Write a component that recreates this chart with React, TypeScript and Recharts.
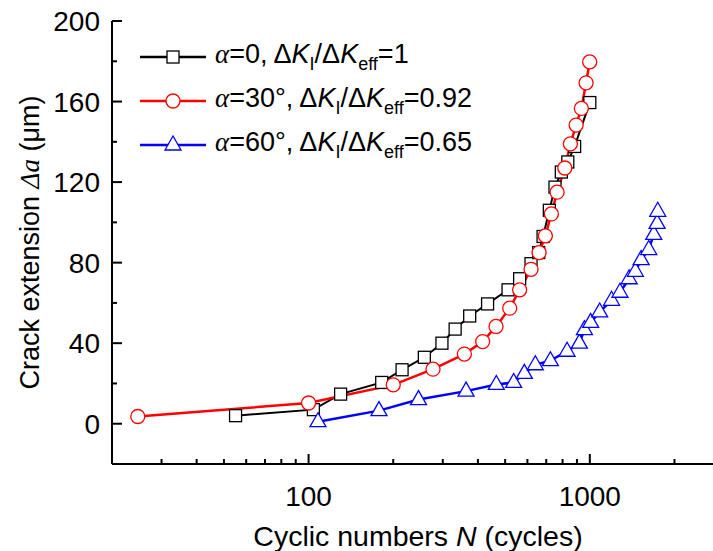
import React from 'react';
import { LineChart, Line, XAxis, YAxis, Legend } from 'recharts';

// cycles N and crack extension (um) for each loading angle
const blackN = [55, 104, 130, 182, 215, 258, 298, 332, 374, 433, 512, 563, 618, 658, 682, 718, 752, 792, 835, 883, 1000];
const blackV = [4, 7, 14.7, 20.5, 26.8, 33, 40, 47, 53.5, 59.5, 66.5, 72, 79.5, 85, 93, 106, 117.5, 125, 130, 137.7, 159.5];

const redN = [24.7, 100, 200, 277, 358, 416, 464, 519, 563, 618, 660, 695, 730, 765, 815, 853, 894, 933, 970, 999];
const redV = [3.6, 10.3, 19.3, 27.1, 34.6, 40.8, 48.3, 57.4, 66.5, 76.7, 85, 93.3, 104.2, 115, 127, 139, 148.3, 156.6, 169.3, 179.7];

const blueN = [108, 178, 246, 363, 465, 536, 585, 640, 724, 830, 918, 957, 1007, 1084, 1195, 1280, 1380, 1452, 1522, 1620, 1688, 1735, 1744];
const blueV = [1, 6.5, 12, 16.2, 19.5, 20.5, 25, 29.3, 31.3, 36, 40, 46.7, 50.3, 55.5, 61.3, 65.3, 72, 75.7, 81.5, 86.5, 94, 99.5, 105.5];

const angles = ['0', '30°', '60°'];
const ratios = ['1', '0.92', '0.65'];

const xTicks = [20, 30, 40, 50, 60, 70, 80, 90, 100, 200, 300, 400, 500, 600, 700, 800, 900, 1000, 2000];
const xLabels = [100, 1000];
const yTicks = [0, 20, 40, 60, 80, 100, 120, 140, 160, 180, 200];
const topTicks = [1, 2, 3, 4, 5, 6, 7, 8, 9];

const toPoints = (ns: number[], vs: number[]) => ns.map((n, i) => ({ n, v: vs[i] }));

const blackData = toPoints(blackN, blackV);
const redData = toPoints(redN, redV);
const blueData = toPoints(blueN, blueV);

const FONT = '"Liberation Sans", Arial, sans-serif';
const SERIF = '"Liberation Serif", "Times New Roman", serif';

const SquareDot = (p: any) => {
  if (p.cx == null) return <g key={p.key} />;
  return <rect key={p.key} x={p.cx - 6} y={p.cy - 6} width={12} height={12} fill="#fff" stroke="#000" strokeWidth={1.3} />;
};

const CircleDot = (p: any) => {
  if (p.cx == null) return <g key={p.key} />;
  return <circle key={p.key} cx={p.cx} cy={p.cy} r={7} fill="#fff" stroke="#f00" strokeWidth={1.3} />;
};

const TriangleDot = (p: any) => {
  if (p.cx == null) return <g key={p.key} />;
  const { cx, cy } = p;
  return (
    <polygon key={p.key} points={`${cx},${cy - 9} ${cx - 8},${cy + 5} ${cx + 8},${cy + 5}`}
      fill="#fff" stroke="#00f" strokeWidth={1.3} />
  );
};

const BottomTick = (p: any) => {
  const { x, y, payload } = p;
  const major = xLabels.includes(payload.value);
  return (
    <g>
      <line x1={x} x2={x} y1={y} y2={y - (major ? 10 : 5)} stroke="#000" strokeWidth={2} />
      {major && (
        <text x={x} y={y + 42} textAnchor="middle" fontSize={28} fontFamily={FONT} fill="#000">
          {payload.value}
        </text>
      )}
    </g>
  );
};

const TopTick = (p: any) => (
  <line x1={p.x} x2={p.x} y1={p.y} y2={p.y - 3} stroke="#000" strokeWidth={1.5} />
);

const LeftTick = (p: any) => {
  const { x, y, payload } = p;
  const major = payload.value % 40 === 0;
  return (
    <g>
      <line x1={x} x2={x + (major ? 10 : 5)} y1={y} y2={y} stroke="#000" strokeWidth={2} />
      {major && (
        <text x={x - 12} y={y} dy={10} textAnchor="end" fontSize={28} fontFamily={FONT} fill="#000">
          {payload.value}
        </text>
      )}
    </g>
  );
};

const YTitle = (p: any) => {
  const vb = p.viewBox;
  const cx = 30;
  const cy = vb.y + vb.height / 2;
  return (
    <text x={cx} y={cy} transform={`rotate(-90 ${cx} ${cy})`} textAnchor="middle" dominantBaseline="central"
      fontSize={27} fontFamily={FONT} fill="#000">
      Crack extension <tspan fontFamily={SERIF} fontStyle="italic">Δa</tspan> (μm)
    </text>
  );
};

const XTitle = (p: any) => {
  const vb = p.viewBox;
  return (
    <text x={vb.x + vb.width / 2} y={546} textAnchor="middle" fontSize={28.5} fontFamily={FONT} fill="#000">
      Cyclic numbers <tspan fontStyle="italic">N</tspan> (cycles)
    </text>
  );
};

const markers = [
  (cx: number, cy: number) => <rect x={cx - 6} y={cy - 6} width={12} height={12} fill="#fff" stroke="#000" strokeWidth={1.3} />,
  (cx: number, cy: number) => <circle cx={cx} cy={cy} r={7} fill="#fff" stroke="#f00" strokeWidth={1.3} />,
  (cx: number, cy: number) => (
    <polygon points={`${cx},${cy - 9} ${cx - 8},${cy + 5} ${cx + 8},${cy + 5}`} fill="#fff" stroke="#00f" strokeWidth={1.3} />
  ),
];
const colors = ['#000', '#f00', '#00f'];

const renderLegend = () => (
  <div style={{ fontFamily: FONT, fontSize: 27, color: '#000' }}>
    {angles.map((a, i) => (
      <div key={i} style={{ display: 'flex', alignItems: 'center', height: 44 }}>
        <svg width={66} height={44} style={{ marginRight: 9 }}>
          <line x1={0} x2={66} y1={22} y2={22} stroke={colors[i]} strokeWidth={2.5} />
          {markers[i](33, 22)}
        </svg>
        <span style={{ whiteSpace: 'nowrap' }}>
          <i style={{ fontFamily: SERIF }}>α</i>={a}, Δ<i>K</i>
          <sub style={{ fontSize: 18, verticalAlign: -7 }}>I</sub>/Δ<i>K</i>
          <sub style={{ fontSize: 18, verticalAlign: -7 }}>eff</sub>={ratios[i]}
        </span>
      </div>
    ))}
  </div>
);

export default function App() {
  return (
    <div style={{ position: 'fixed', left: 0, top: 0, width: 713, height: 551, overflow: 'hidden', background: '#fff' }}>
      <LineChart width={740} height={551} margin={{ top: 21, right: 16, bottom: 0, left: 0 }}>
        <XAxis dataKey="n" type="number" scale="log" domain={[20, 3000]} ticks={xTicks} allowDataOverflow
          height={87} tickSize={0} tickMargin={0} tickLine={false} tick={<BottomTick />} interval={0}
          axisLine={{ stroke: '#000', strokeWidth: 2 }} label={<XTitle />} />
        <XAxis xAxisId="top" orientation="top" type="number" domain={[0, 10]} ticks={topTicks} height={0}
          tickSize={0} tickMargin={0} tickLine={false} tick={<TopTick />} interval={0}
          axisLine={{ stroke: '#000', strokeWidth: 2 }} />
        <YAxis dataKey="v" type="number" domain={[-20, 200]} ticks={yTicks} width={112} interval={0}
          tickSize={0} tickMargin={0} tickLine={false} tick={<LeftTick />}
          axisLine={{ stroke: '#000', strokeWidth: 2 }} label={<YTitle />} />
        <Legend layout="vertical" align="center" verticalAlign="middle" content={renderLegend}
          wrapperStyle={{ left: 140, top: 35, width: 'auto' }} />
        <Line data={blackData} dataKey="v" stroke="#000" strokeWidth={2} dot={SquareDot} isAnimationActive={false} />
        <Line data={redData} dataKey="v" stroke="#f00" strokeWidth={2.5} dot={CircleDot} isAnimationActive={false} />
        <Line data={blueData} dataKey="v" stroke="#00f" strokeWidth={2.5} dot={TriangleDot} isAnimationActive={false} />
      </LineChart>
    </div>
  );
}
